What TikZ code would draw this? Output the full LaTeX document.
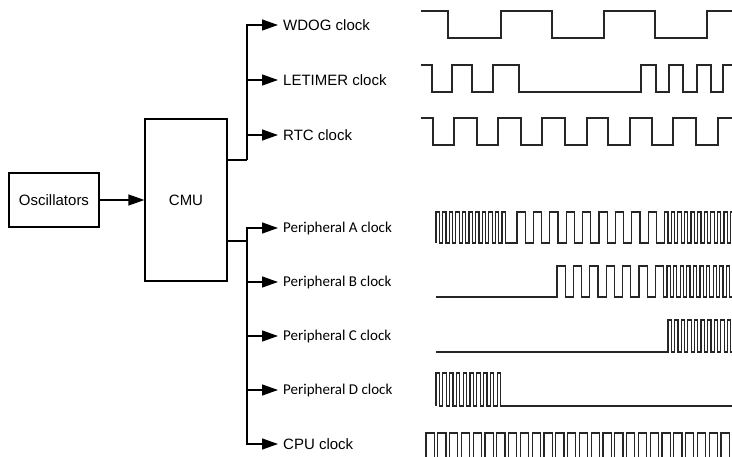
\documentclass[tikz,border=0pt]{standalone}
\usepackage{fontspec}
\setmainfont{Liberation Sans}
\newfontfamily\calib{Carlito}
\usetikzlibrary{arrows.meta}
\begin{document}
\begin{tikzpicture}[x=1pt,y=-1pt,
  box/.style={draw, line width=1.3pt, inner sep=0pt, font=\fontsize{15}{18}\selectfont},
  lab/.style={anchor=west, inner sep=0pt, text height=10.7pt, text depth=0pt, font=\fontsize{15}{18}\selectfont},
  plab/.style={anchor=west, inner sep=0pt, text height=9.6pt, text depth=0pt, font=\calib\fontsize{15}{18}\selectfont},
  conn/.style={line width=1.3pt, -{Triangle[length=16pt,width=11pt]}},
  bus/.style={line width=2.2pt},
  wave/.style={line width=1.2pt, black!85, line join=miter}]
\useasboundingbox (0,0) rectangle (732,457);

% blocks
\node[box, minimum width=90pt, minimum height=54pt] (osc) at (54,200) {Oscillators};
\node[box, minimum width=82pt, minimum height=162pt] (cmu) at (186,200) {CMU};
\draw[conn] (osc) -- (cmu);

% labels
\node[lab] (wdog) at (283,25) {WDOG clock};
\node[lab] (letimer) at (283,80) {LETIMER clock};
\node[lab] (rtc) at (283,135) {RTC clock};
\node[plab] (pa) at (283,228) {Peripheral A clock};
\node[plab] (pb) at (283,282) {Peripheral B clock};
\node[plab] (pc) at (283,336) {Peripheral C clock};
\node[plab] (pd) at (283,390) {Peripheral D clock};
\node[lab] (cpu) at (283,444) {CPU clock};

% buses
\coordinate (bt) at (247,160);
\coordinate (bb) at (247,241);
\draw[bus] (cmu.east |- bt) -- (bt);
\draw[bus] (cmu.east |- bb) -- (bb);
\draw[conn] (bt) |- ([xshift=-5pt]wdog.west);
\draw[conn] (bt |- letimer) -- ([xshift=-5pt]letimer.west);
\draw[conn] (bt |- rtc) -- ([xshift=-5pt]rtc.west);
\draw[conn] (bb) |- ([xshift=-5pt]pa.west);
\draw[conn] (bb |- pb) -- ([xshift=-5pt]pb.west);
\draw[conn] (bb |- pc) -- ([xshift=-5pt]pc.west);
\draw[conn] (bb |- pd) -- ([xshift=-5pt]pd.west);
\draw[conn] (bb) |- ([xshift=-5pt]cpu.west);

% waveforms
\begin{scope}
\clip (400,0) rectangle (732,457);
% WDOG
\draw[wave] (421,11) -| (448,38) -| (501,11) -| (552,38) -| (604,11) -| (655,38) -| (707,11) -- (740,11);
% LETIMER
\draw[wave] (421,65) -| (432,92) -| (452,65) -| (472,92) -| (493,65) -| (519,92) -| (641,65) -| (656,92) -| (669,65) -| (683,92) -| (697,65) -| (711,92) -| (723,65) -- (740,65);
% RTC
\draw[wave] (421,118) -| (433,145) -| (454,118) -| (477,145) -| (498,118) -| (521,145) -| (542,118) -| (565,145) -| (587,118) -| (608,145) -| (630,118) -| (652,145) -| (673,118) -| (696,145) -| (718,118) -- (740,118);
% Peripheral A
\draw[wave] (436,243)
  foreach \i in {1,...,11}{ -- ++(0,-31) -- ++(3.3,0) -- ++(0,31) -- ++(3.3,0)}
  -- (517,243)
  foreach \i in {1,...,9}{ -- ++(0,-31) -- ++(8.2,0) -- ++(0,31) -- ++(8.2,0)}
  foreach \i in {1,...,11}{ -- ++(0,-31) -- ++(3.3,0) -- ++(0,31) -- ++(3.3,0)};
% Peripheral B
\draw[wave] (436,297) -- (557,297)
  foreach \i in {1,...,6}{ -- ++(0,-31) -- ++(8.2,0) -- ++(0,31) -- ++(8.2,0)}
  -- ++(0,-31) -- ++(8.2,0) -- ++(0,31)
  foreach \i in {1,...,11}{ -- ++(3.3,0) -- ++(0,-31) -- ++(3.3,0) -- ++(0,31)};
% Peripheral C
\draw[wave] (436,352) -- (668,352)
  foreach \i in {1,...,11}{ -- ++(0,-32) -- ++(3.3,0) -- ++(0,32) -- ++(3.3,0)};
% Peripheral D
\draw[wave] (436,406)
  foreach \i in {1,...,10}{ -- ++(0,-33) -- ++(3.4,0) -- ++(0,33) -- ++(3.4,0)}
  -- (740,406);
% CPU
\draw[wave] (426,470)
  foreach \i in {1,...,27}{ -- ++(0,-37) -- ++(8.2,0) -- ++(0,37) -- ++(3.6,0)};
\end{scope}
\end{tikzpicture}
\end{document}
